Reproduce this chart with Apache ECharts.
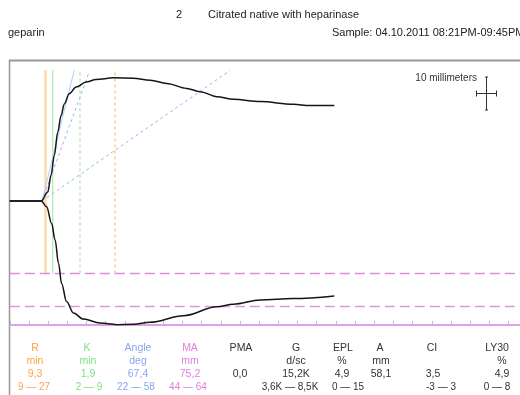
<!DOCTYPE html>
<html>
<head>
<meta charset="utf-8">
<title>TEG</title>
<script src="https://cdn.jsdelivr.net/npm/echarts@6/dist/echarts.min.js"></script>
<style>html,body{margin:0;padding:0;background:#fff;}</style>
</head>
<body>
<div id="main" style="width:520px;height:395px;"></div>
<script>
// trace, time in minutes, amplitude in mm from the baseline
var upperTime = [0, 8.2, 9.9, 10.75, 11.6, 12.5, 13.35, 14.2, 15.5, 17.3, 19.9, 22.5, 27.0, 32.2, 36.6, 40.9, 46.1, 49.6, 54.0, 58.3, 65.3, 73.9, 78.3, 84.6];
var upperAmp = [0, 0, 2.7, 7.8, 13.8, 20.8, 25.8, 29.4, 32.5, 34.5, 36.0, 36.8, 37.3, 37.2, 36.6, 35.6, 34.1, 33.1, 31.6, 30.8, 30.1, 29.3, 28.9, 28.9];
var lowerTime = [0, 8.2, 9.6, 10.9, 11.8, 12.7, 13.5, 14.8, 16.6, 19.2, 23.5, 27.9, 32.2, 36.6, 45.3, 54.0, 58.3, 65.3, 73.9, 84.6];
var lowerAmp = [0, 0, 1.8, 6.8, 11.8, 18.9, 25.0, 30.5, 34.0, 35.8, 37.0, 37.5, 37.4, 36.8, 34.8, 32.1, 31.3, 30.0, 29.6, 28.8];

// results
var rMin = 9.3, kMin = 1.9, maMm = 75.2;
var maRange = [44, 64];
var rLimit = 27.4, kLimit = 18.3;     // dotted limit lines
var markTop = 39.7;                   // upper end of the vertical marks
var tMax = 133;

// angle lines [t, mm]
var angleSolid = [[8.4, 0], [16.8, 39.6]];
var angleDot1 = [[8.4, 0], [20.7, 39.1]];
var angleDot2 = [[8.4, 0], [57.4, 39.5]];

// table
var colNames = ['R', 'K', 'Angle', 'MA', 'PMA', 'G', 'EPL', 'A', 'CI', 'LY30'];
var colUnits = ['min', 'min', 'deg', 'mm', '', 'd/sc', '%', 'mm', '', '%'];
var colValues = ['9,3', '1,9', '67,4', '75,2', '0,0', '15,2K', '4,9', '58,1', '3,5', '4,9'];
var colRanges = ['9 \u2014 27', '2 \u2014 9', '22 \u2014 58', '44 \u2014 64', '', '3,6K \u2014 8,5K', '0 \u2014 15', '', '-3 \u2014 3', '0 \u2014 8'];
var nameX = [35, 87, 138, 190, 241, 296, 343, 380, 432, 497];
var colX = [35, 88, 138, 190, 240, 296, 342, 381, 433, 502];
var rangeX = [34, 89, 136, 188, 240, 290, 348, 381, 441, 497];
var colColors = ['#ffa445', '#7fe07f', '#8aa6ef', '#df7fdf', '#333', '#333', '#333', '#333', '#333', '#333'];

var FONT = '"Liberation Sans", Arial, sans-serif';

function pairs(t, v, sign) {
	var out = [];
	for (var i = 0; i < t.length; i++) out.push([t[i], sign * v[i]]);
	return out;
}
function vline(x, color, type, width) {
	return {
		type: 'line', data: [[x, -maRange[0] / 2], [x, markTop]], symbol: 'none', silent: true,
		lineStyle: {color: color, width: width, type: type}, z: 1
	};
}
function hline(y, color, type, width) {
	return {
		type: 'line', data: [[0, y], [tMax, y]], symbol: 'none', silent: true, clip: false,
		lineStyle: {color: color, width: width, type: type}, z: 2
	};
}
function seg(d, color, type, width) {
	return {type: 'line', data: d, symbol: 'none', silent: true, lineStyle: {color: color, width: width, type: type}, z: 1};
}

var myChart = echarts.init(document.getElementById('main'));

var g = [];
// headers
g.push({type: 'text', left: 176, top: 9, style: {text: '2', font: '11px ' + FONT, fill: '#222'}});
g.push({type: 'text', left: 208, top: 9, style: {text: 'Citrated native with heparinase', font: '11px ' + FONT, fill: '#222'}});
g.push({type: 'text', left: 8, top: 27, style: {text: 'geparin', font: '11px ' + FONT, fill: '#222'}});
g.push({type: 'text', left: 332, top: 27, style: {text: 'Sample: 04.10.2011 08:21PM-09:45PM', font: '11px ' + FONT, fill: '#222'}});
// frame
g.push({type: 'line', shape: {x1: 9.5, y1: 60, x2: 9.5, y2: 395}, style: {stroke: '#999', lineWidth: 1.5}});
g.push({type: 'line', shape: {x1: 9, y1: 60.5, x2: 520, y2: 60.5}, style: {stroke: '#999', lineWidth: 2}});
// scale bar
g.push({type: 'text', right: 43, top: 73, style: {text: '10 millimeters', font: '10px ' + FONT, fill: '#333'}});
g.push({type: 'line', shape: {x1: 486.5, y1: 77, x2: 486.5, y2: 110}, style: {stroke: '#333', lineWidth: 1}});
g.push({type: 'line', shape: {x1: 485, y1: 77, x2: 488, y2: 77}, style: {stroke: '#333', lineWidth: 1}});
g.push({type: 'line', shape: {x1: 485, y1: 110, x2: 488, y2: 110}, style: {stroke: '#333', lineWidth: 1}});
g.push({type: 'line', shape: {x1: 476.5, y1: 93.5, x2: 496.5, y2: 93.5}, style: {stroke: '#333', lineWidth: 1}});
g.push({type: 'line', shape: {x1: 476.5, y1: 90.5, x2: 476.5, y2: 96.5}, style: {stroke: '#333', lineWidth: 1}});
g.push({type: 'line', shape: {x1: 496.5, y1: 90.5, x2: 496.5, y2: 96.5}, style: {stroke: '#333', lineWidth: 1}});
// results table
var rowY = [348, 361, 374, 387];
for (var i = 0; i < colNames.length; i++) {
	var rows = [colNames[i], colUnits[i], colValues[i], colRanges[i]];
	var xs = [nameX[i], colX[i], colX[i], rangeX[i]];
	for (var j = 0; j < 4; j++) {
		if (!rows[j]) continue;
		g.push({type: 'text', x: xs[j], y: rowY[j], style: {
			text: rows[j], font: (j == 3 ? '10px ' : '10.5px ') + FONT, fill: colColors[i], align: 'center', verticalAlign: 'middle'
		}});
	}
}

var option = {
	animation: false,
	grid: {left: 9.8, right: 0, top: 60, height: 265},
	xAxis: {
		type: 'value', min: 0, max: tMax, interval: 5,
		axisLine: {show: false, onZero: false},
		axisTick: {show: true, inside: true, length: 4, lineStyle: {color: '#8ccaf2', width: 1}},
		axisLabel: {show: false},
		splitLine: {show: false}
	},
	yAxis: {type: 'value', min: -maMm / 2, max: 42.7, show: false, splitLine: {show: false}},
	graphic: g,
	series: [
		vline(rMin, '#ffd9a8', 'solid', 2.5),
		vline(rMin + kMin, '#9de89d', 'solid', 1),
		vline(kLimit, '#b8f0b8', [3, 3], 1.5),
		vline(rLimit, '#ffcf92', [3, 3], 1.5),
		seg(angleSolid, '#b4cdf8', 'solid', 1),
		seg(angleDot1, '#98b4f2', [3, 3], 1),
		seg(angleDot2, '#98b4f2', [3, 3], 1),
		hline(-maRange[0] / 2, '#dd8add', [10, 5], 1.5),
		hline(-maRange[1] / 2, '#dd99dd', [10, 5], 1.5),
		hline(-maMm / 2, '#e0a0e8', 'solid', 2),
		{
			type: 'line', data: pairs(upperTime, upperAmp, 1), smooth: 0.35, smoothMonotone: 'x',
			symbol: 'none', lineStyle: {color: '#151515', width: 1.5}, z: 3
		},
		{
			type: 'line', data: pairs(lowerTime, lowerAmp, -1), smooth: 0.35, smoothMonotone: 'x',
			symbol: 'none', lineStyle: {color: '#151515', width: 1.5}, z: 3
		}
	]
};

myChart.setOption(option);
</script>
</body>
</html>
